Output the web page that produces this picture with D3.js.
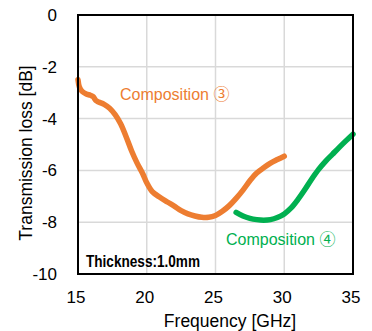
<!DOCTYPE html>
<html>
<head>
<meta charset="utf-8">
<script src="https://cdn.jsdelivr.net/npm/d3@7"></script>
<style>
  body { margin: 0; background: #fff; }
  svg { font-family: Arial, "Liberation Sans", sans-serif; }
</style>
</head>
<body>
<div id="chart"></div>
<script>
// data
var xTicks = [15, 20, 25, 30, 35];
var yTicks = [0, -2, -4, -6, -8, -10];

var comp3Freq = [15.0, 15.1, 15.3, 15.6, 15.9, 16.1, 16.3, 16.5, 16.9, 17.3, 17.7, 18.1, 18.5, 18.9, 19.3, 19.7, 20.0, 20.4, 20.9, 21.5, 22.0, 22.5, 23.0, 23.5, 24.0, 24.5, 25.0, 25.5, 26.0, 26.5, 27.0, 27.5, 28.0, 28.5, 29.0, 29.5, 30.0];
var comp3Loss = [-2.5, -2.78, -2.95, -3.05, -3.1, -3.15, -3.3, -3.36, -3.45, -3.6, -3.85, -4.2, -4.7, -5.25, -5.72, -6.12, -6.48, -6.82, -7.02, -7.22, -7.38, -7.55, -7.68, -7.76, -7.81, -7.81, -7.74, -7.58, -7.36, -7.08, -6.76, -6.4, -6.1, -5.9, -5.72, -5.58, -5.45];

var comp4Freq = [26.5, 27.0, 27.5, 28.0, 28.5, 29.0, 29.5, 30.0, 30.5, 31.0, 31.5, 32.0, 32.5, 33.0, 33.5, 34.0, 34.5, 35.0];
var comp4Loss = [-7.62, -7.76, -7.85, -7.9, -7.92, -7.9, -7.82, -7.68, -7.45, -7.12, -6.74, -6.33, -5.96, -5.65, -5.38, -5.11, -4.85, -4.6];

var margin = {t: 15, r: 19, b: 57, l: 78},
    W = 372, H = 331,
    w = W - margin.l - margin.r,
    h = H - margin.t - margin.b;

var x = d3.scaleLinear().domain([15, 35]).range([0, w]),
    y = d3.scaleLinear().domain([-10, 0]).range([h, 0]);

var svg = d3.select("#chart").append("svg")
    .attr("width", W)
    .attr("height", H);

var g = svg.append("g").attr("transform", "translate(" + margin.l + "," + margin.t + ")");

// grid lines
g.selectAll(".vgrid")
    .data(xTicks.slice(1, -1))
  .enter().append("line")
    .attr("x1", function(d) { return x(d); })
    .attr("x2", function(d) { return x(d); })
    .attr("y1", 0)
    .attr("y2", h)
    .style("stroke", "#d9d9d9")
    .style("stroke-width", 1.5);

g.selectAll(".hgrid")
    .data(yTicks.slice(1, -1))
  .enter().append("line")
    .attr("x1", 0)
    .attr("x2", w)
    .attr("y1", function(d) { return y(d); })
    .attr("y2", function(d) { return y(d); })
    .style("stroke", "#d9d9d9")
    .style("stroke-width", 1.5);

// axes, labels only (plain hyphen for negatives, like the original)
var fmt = function(d) { return String(d); };
var xAxis = d3.axisBottom(x).tickValues(xTicks).tickFormat(fmt).tickSize(0).tickPadding(17);
var yAxis = d3.axisLeft(y).tickValues(yTicks).tickFormat(fmt).tickSize(0).tickPadding(21);

var gx = g.append("g")
    .attr("transform", "translate(0," + h + ")")
    .call(xAxis);
gx.select(".domain").remove();
gx.selectAll("text")
    .attr("x", -2.5)
    .style("font-size", "17px")
    .style("font-family", "Arial, 'Liberation Sans', sans-serif")
    .style("fill", "#000");

var gy = g.append("g").call(yAxis);
gy.select(".domain").remove();
gy.selectAll("text")
    .style("font-size", "17px")
    .style("font-family", "Arial, 'Liberation Sans', sans-serif")
    .style("fill", "#000");

// lines
var line = d3.line()
    .x(function(d) { return x(d[0]); })
    .y(function(d) { return y(d[1]); })
    .curve(d3.curveCatmullRom.alpha(0.5));

var comp3 = d3.zip(comp3Freq, comp3Loss),
    comp4 = d3.zip(comp4Freq, comp4Loss);

g.append("path")
    .datum(comp3)
    .attr("d", line)
    .style("fill", "none")
    .style("stroke", "#ED7D31")
    .style("stroke-width", 5.5)
    .style("stroke-linecap", "round")
    .style("stroke-linejoin", "round");

g.append("path")
    .datum(comp4)
    .attr("d", line)
    .style("fill", "none")
    .style("stroke", "#00B050")
    .style("stroke-width", 5.5)
    .style("stroke-linecap", "round")
    .style("stroke-linejoin", "round");

// frame
g.append("rect")
    .attr("x", 0)
    .attr("y", 0)
    .attr("width", w)
    .attr("height", h)
    .style("fill", "none")
    .style("stroke", "#000")
    .style("stroke-width", 2);

// annotations
var lab3 = svg.append("text")
    .attr("x", 120)
    .attr("y", 100)
    .style("font-size", "16px")
    .style("fill", "#ED7D31");
lab3.append("tspan").text("Composition ");
lab3.append("tspan").style("font-family", "'Noto Sans CJK JP', 'DejaVu Sans', sans-serif").text("③");

var lab4 = svg.append("text")
    .attr("x", 226)
    .attr("y", 245)
    .style("font-size", "16px")
    .style("fill", "#00B050");
lab4.append("tspan").text("Composition ");
lab4.append("tspan").style("font-family", "'Noto Sans CJK JP', 'DejaVu Sans', sans-serif").text("④");

svg.append("text")
    .attr("x", 86)
    .attr("y", 267)
    .attr("textLength", 114)
    .attr("lengthAdjust", "spacingAndGlyphs")
    .style("font-size", "16px")
    .style("font-weight", "bold")
    .style("fill", "#000")
    .text("Thickness:1.0mm");

// axis titles
svg.append("text")
    .attr("text-anchor", "middle")
    .attr("x", 230)
    .attr("y", 327)
    .style("font-size", "17.5px")
    .style("fill", "#000")
    .text("Frequency [GHz]");

svg.append("text")
    .attr("text-anchor", "middle")
    .attr("transform", "translate(32,153) rotate(-90)")
    .style("font-size", "17.5px")
    .style("fill", "#000")
    .text("Transmission loss [dB]");
</script>
</body>
</html>
